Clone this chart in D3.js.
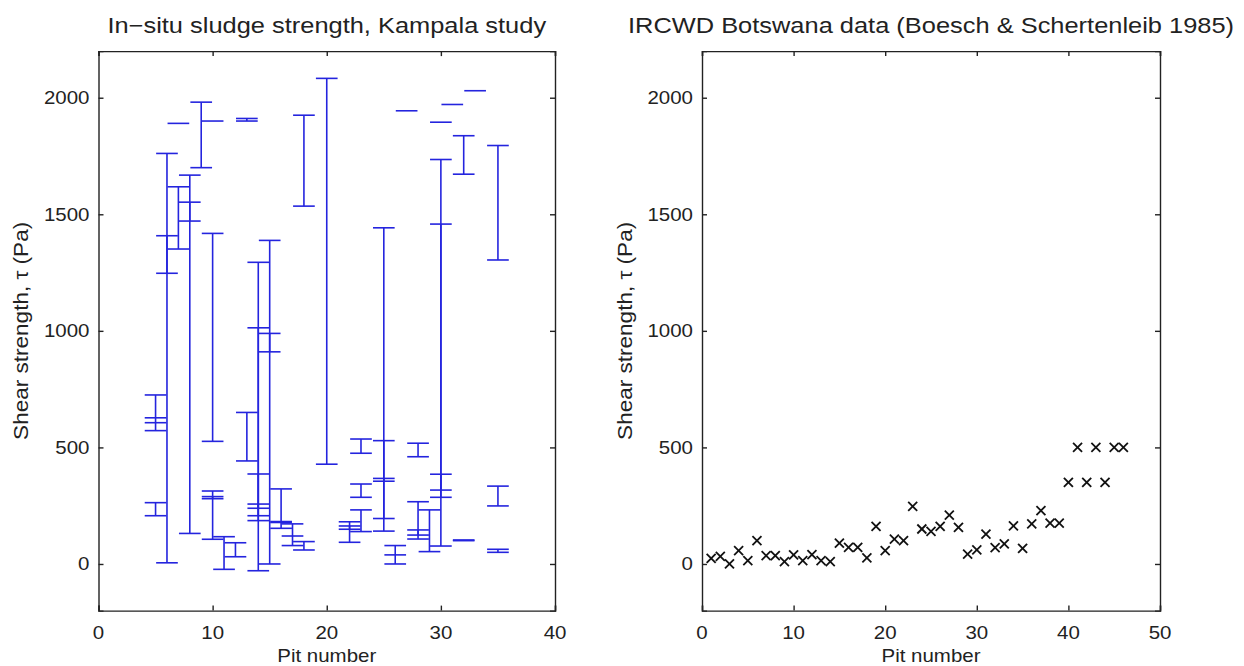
<!DOCTYPE html>
<html>
<head>
<meta charset="utf-8">
<script src="https://cdn.jsdelivr.net/npm/d3@7"></script>
<style>
  html, body { margin: 0; padding: 0; background: #fff; }
  svg { display: block; }
  text { font-family: "Liberation Sans", Arial, Helvetica, sans-serif; fill: #222; }
</style>
</head>
<body>
<svg id="chart" width="1244" height="666"></svg>
<script>
// ---------- Data ----------
// Left panel: in-situ shear strength ranges per pit (each entry = one range, low..high)
const segPit  = [5,5,5,5, 6,6, 7,7, 8,8, 9, 10,10,10,10, 11, 12, 13,13, 14,14,14,14, 15,15, 16,16, 17,17, 18,18, 20, 22,22, 23,23,23, 25,25,25, 26,26, 27, 28,28,28, 29, 30,30,30,30, 31, 32,32, 33, 35,35,35];
const segLow  = [572,606,627,207, 5,1247, 1351,1890, 131,1471, 1700, 526,1900,106,280, -23, 31, 442,1900, -29,186,207,239, 0,910, 153,178, 79,120, 60,1535, 428, 93,149, 475,286,139, 141,195,355, 0,39, 1944, 460,107,124, 53, 77,286,317,1895, 1971, 1672,100, 2030, 1304,249,50];
const segHigh = [725,606,627,263, 1408,1761, 1618,1890, 1552,1668, 1981, 1418,1900,313,289, 117, 91, 650,1911, 386,1294,1013,257, 989,1388, 322,182, 172,120, 96,1925, 2083, 181,163, 536,343,232, 529,1442,367, 79,39, 1944, 518,267,146, 232, 1735,1458,385,1895, 1971, 1837,103, 2030, 1795,334,63];

// Right panel: IRCWD Botswana data
const botsPit   = [1,2,3,4,5,6,7,8,9,10,11,12,13,14,15,16,17,18,19,20,21,22,23,24,25,26,27,28,29,30,31,32,33,34,35,36,37,38,39,40,41,42,43,44,45,46];
const botsShear = [24,33,0,57,14,100,36,36,10,39,14,40,14,10,89,71,71,26,161,57,107,100,247,150,140,161,210,157,42,60,128,70,86,163,67,172,229,175,175,350,500,350,500,350,500,500];

// Axis ticks / labels
const leftXTicks  = [0,10,20,30,40];
const rightXTicks = [0,10,20,30,40,50];
const yTicks      = [0,500,1000,1500,2000];
const titles  = ["In\u2212situ sludge strength, Kampala study", "IRCWD Botswana data (Boesch & Schertenleib 1985)"];
const xLabel  = "Pit number";
const yLabel  = "Shear strength, \u03C4 (Pa)";

// ---------- Drawing ----------
const svg = d3.select("#chart");
const AXIS = "#222";
const BLUE = "rgb(36,36,222)";
const TICK = 5;
const FS = 17.5, SX = 1.17;      // tick / label font
const TFS = 22.5, TSX = 1.13;    // title font
const YFS = 20.5, YSX = 1.1;     // y label font

function stext(g, str, x, y, opts) {
  const o = Object.assign({anchor: "middle", size: FS, sx: SX, rot: 0}, opts || {});
  return g.append("text")
    .attr("transform", `translate(${x},${y}) rotate(${o.rot}) scale(${o.sx},1)`)
    .attr("text-anchor", o.anchor)
    .style("font-size", o.size + "px")
    .text(str);
}

function panel(x0, x1, xDomain, xTicks, title, ylabX) {
  const x = d3.scaleLinear().domain(xDomain).range([x0, x1]);
  const y = d3.scaleLinear().domain([-200, 2200]).range([610.6, 51.1]);
  const g = svg.append("g");

  // box with inward ticks on all four sides
  g.append("g").attr("transform", `translate(0,${y(-200)})`).call(d3.axisTop(x).tickValues(xTicks).tickSize(TICK).tickFormat(""));
  g.append("g").attr("transform", `translate(0,${y(2200)})`).call(d3.axisBottom(x).tickValues(xTicks).tickSize(TICK).tickFormat(""));
  g.append("g").attr("transform", `translate(${x(xDomain[0])},0)`).call(d3.axisRight(y).tickValues(yTicks).tickSize(TICK).tickFormat(""));
  g.append("g").attr("transform", `translate(${x(xDomain[1])},0)`).call(d3.axisLeft(y).tickValues(yTicks).tickSize(TICK).tickFormat(""));
  g.selectAll(".domain").attr("stroke", AXIS).attr("stroke-width", 1.4);
  g.selectAll(".tick line").attr("stroke", AXIS).attr("stroke-width", 1.4);

  // tick labels
  xTicks.forEach(t => stext(g, String(t), x(t), 639));
  yTicks.forEach(t => stext(g, String(t), x(xDomain[0]) - 9, y(t) + 6.3, {anchor: "end"}));

  // labels
  stext(g, xLabel, (x0 + x1) / 2, 662);
  stext(g, yLabel, ylabX, (y(-200) + y(2200)) / 2, {rot: -90, size: YFS, sx: YSX});
  stext(g, title, (x0 + x1) / 2, 33, {size: TFS, sx: TSX});

  return {g, x, y};
}

// Left panel
const L = panel(98.5, 555, [0, 40], leftXTicks, titles[0], 28);
const cap = 0.95; // half cap width in pit units
const segs = segPit.map((p, i) => ({p, lo: segLow[i], hi: segHigh[i]}));
const eg = L.g.append("g").attr("stroke", BLUE).attr("stroke-width", 1.6).attr("fill", "none");
eg.selectAll("line.v").data(segs.filter(d => d.hi > d.lo)).join("line").attr("class", "v")
  .attr("x1", d => L.x(d.p)).attr("x2", d => L.x(d.p))
  .attr("y1", d => L.y(d.lo)).attr("y2", d => L.y(d.hi));
const caps = [];
segs.forEach(d => { caps.push({p: d.p, v: d.lo}); if (d.hi !== d.lo) caps.push({p: d.p, v: d.hi}); });
eg.selectAll("line.c").data(caps).join("line").attr("class", "c")
  .attr("x1", d => L.x(d.p - cap)).attr("x2", d => L.x(d.p + cap))
  .attr("y1", d => L.y(d.v)).attr("y2", d => L.y(d.v));

// Right panel
const R = panel(702, 1160, [0, 50], rightXTicks, titles[1], 632);
const ms = 4.5;
const pts = botsPit.map((p, i) => ({p, v: botsShear[i]}));
const mg = R.g.append("g").attr("stroke", "#111").attr("stroke-width", 1.8);
const mk = mg.selectAll("g.m").data(pts).join("g").attr("class", "m")
  .attr("transform", d => `translate(${R.x(d.p)},${R.y(d.v)})`);
mk.append("line").attr("x1", -ms).attr("y1", -ms).attr("x2", ms).attr("y2", ms);
mk.append("line").attr("x1", -ms).attr("y1", ms).attr("x2", ms).attr("y2", -ms);
</script>
</body>
</html>
